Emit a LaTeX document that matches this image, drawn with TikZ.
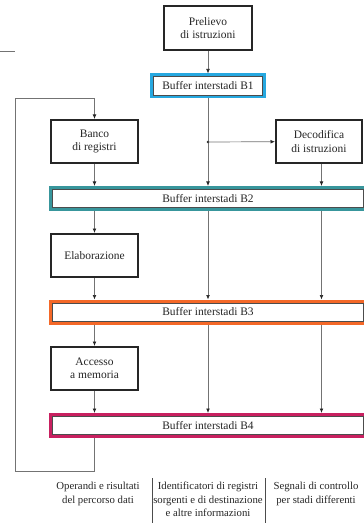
\documentclass[tikz,border=0pt]{standalone}
\usepackage{fontspec}
\setmainfont{Liberation Serif}
\usepackage{xcolor}
\usepackage{tikz}
\usetikzlibrary{calc,arrows.meta}
\definecolor{bufcyan}{RGB}{38,168,224}
\definecolor{bufteal}{RGB}{56,150,156}
\definecolor{buforange}{RGB}{244,104,40}
\definecolor{bufmagenta}{RGB}{200,32,96}
\tikzset{
  stage/.style={draw=black!85, line width=2bp, fill=white, align=center, text=black!85, font=\fontsize{11.5}{13.5}\selectfont, minimum width=87bp, minimum height=43bp, inner sep=1pt},
  buffer/.style={draw=#1, line width=3bp, fill=white, text=black!85, font=\fontsize{11.5}{13.5}\selectfont, minimum height=22bp, inner sep=0pt},
  link/.style={draw=black!55, line width=0.7bp},
  arr/.style={link, -{Latex[length=4.5bp,width=3.8bp,color=black!85]}},
  legend/.style={align=center, text=black!85, font=\fontsize{10.8}{13.6}\selectfont, inner sep=0pt, anchor=north},
  sep/.style={draw=black!70, line width=0.6bp}
}

\begin{document}
\begin{tikzpicture}[x=1bp,y=-1bp]
\useasboundingbox (0,0) rectangle (363,524);
% stadi e buffer
\node[stage, minimum width=88bp, minimum height=44bp] (prelievo) at (208,28) {Prelievo\\di istruzioni};
\node[buffer=bufcyan, minimum width=113bp] (b1) at (208,86) {Buffer interstadi B1};
\node[stage] (banco) at (94.5,141.5) {Banco\\di registri};
\node[stage, minimum width=86bp] (deco) at (319,141.5) {Decodifica\\di istruzioni};
\node[buffer=bufteal, minimum width=315bp] (b2) at (208,198.5) {Buffer interstadi B2};
\node[stage] (elab) at (94.5,255.5) {Elaborazione};
\node[buffer=buforange, minimum width=315bp] (b3) at (208,312) {Buffer interstadi B3};
\node[stage] (accesso) at (94.5,368.5) {Accesso\\a memoria};
\node[buffer=bufmagenta, minimum width=315bp] (b4) at (208,425.5) {Buffer interstadi B4};
\foreach \b in {b1,b2,b3,b4}
  \draw[black!70, line width=0.6bp] ([shift={(3.3bp,-3.3bp)}]\b.north west) rectangle ([shift={(-3.3bp,3.3bp)}]\b.south east);

% colonne
\coordinate (c2) at (208,0);
\coordinate (c3) at (321.5,0);
\coordinate (split) at (208,142);
\draw[link] (0,51.5) -- (15,51.5);
\draw[arr] (prelievo) -- (b1);
\draw[arr] (b1) -- (b2.north -| c2);
\fill[black!85] (split) circle (1.4bp);
\draw[arr] (split) -- (deco);
\draw[arr] (banco) -- (b2.north -| banco);
\draw[arr] (deco.south -| c3) -- (b2.north -| c3);
\draw[arr] (b2.south -| banco) -- (elab);
\draw[arr] (elab) -- (b3.north -| elab);
\draw[arr] (b3.south -| accesso) -- (accesso);
\draw[arr] (accesso) -- (b4.north -| accesso);
\foreach \c in {c2,c3} {
  \draw[arr] (b2.south -| \c) -- (b3.north -| \c);
  \draw[arr] (b3.south -| \c) -- (b4.north -| \c);
}
% ritorno ai registri
\coordinate (rit1) at (15,471);
\coordinate (rit2) at (15,98);
\draw[arr] (b4.south -| banco) |- (rit1) -- (rit2) -| (banco.north);

% legenda
\node[legend] (dati) at (98,482) {Operandi e risultati\\del percorso dati};
\node[legend] (ident) at (208,482) {Identificatori di registri\\sorgenti e di destinazione\\e altre informazioni};
\node[legend] (ctrl) at (316,482) {Segnali di controllo\\per stadi differenti};
\draw[sep] (152,478) -- (152,523);
\draw[sep] (265,478) -- (265,523);
\end{tikzpicture}
\end{document}
